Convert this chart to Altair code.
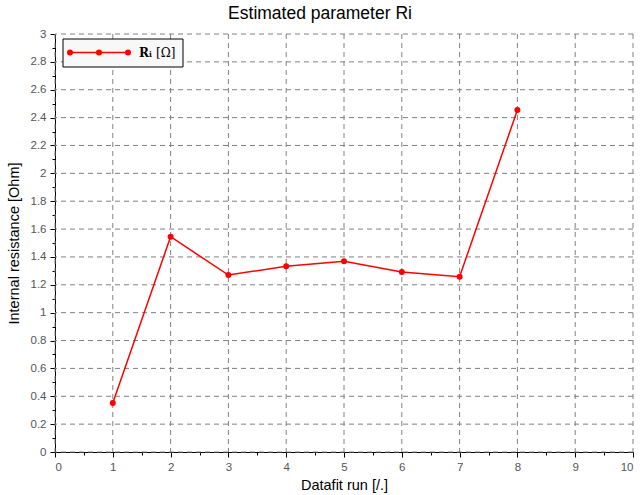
import altair as alt
import pandas as pd

runs = [1, 2, 3, 4, 5, 6, 7, 8]
ri = [0.352, 1.545, 1.270, 1.333, 1.369, 1.292, 1.258, 2.455]

x_ticks = [i * 0.5 for i in range(21)]
y_ticks = [round(i * 0.1, 1) for i in range(31)]
x_major = list(range(0, 11))
y_major = [round(i * 0.2, 1) for i in range(16)]

df = pd.DataFrame({"run": runs, "ri": ri})
dummy = pd.DataFrame({"a": [0]})

xaxis = alt.Axis(
    values=x_ticks,
    grid=False,
    labelExpr="(round(datum.value*2) % 2 === 0) ? format(datum.value, '~g') : ''",
    tickSize={"condition": {"test": "round(datum.value*2) % 2 === 0", "value": 5}, "value": 3},
    title="Datafit run [/.]",
)
yaxis = alt.Axis(
    values=y_ticks,
    grid=False,
    labelExpr="(round(datum.value*10) % 2 === 0) ? format(datum.value, '~g') : ''",
    tickSize={"condition": {"test": "round(datum.value*10) % 2 === 0", "value": 5}, "value": 3},
    title="Internal resistance [Ohm]",
)

xs = alt.Scale(domain=[0, 10], nice=False, zero=False)
ys = alt.Scale(domain=[0, 3], nice=False)
x = alt.X("run:Q", scale=xs, axis=xaxis)
y = alt.Y("ri:Q", scale=ys, axis=yaxis)

grid_style = dict(color="#808080", strokeDash=[5, 4], strokeWidth=1)
vgrid = alt.Chart(pd.DataFrame({"gx": x_major})).mark_rule(**grid_style).encode(
    x=alt.X("gx:Q", scale=xs, axis=xaxis)
)
hgrid = alt.Chart(pd.DataFrame({"gy": y_major})).mark_rule(**grid_style).encode(
    y=alt.Y("gy:Q", scale=ys, axis=yaxis)
)

line = alt.Chart(df).mark_line(color="#ff0000", strokeWidth=1.5).encode(x=x, y=y)
pts = alt.Chart(df).mark_circle(color="#ff0000", size=36, opacity=1).encode(x=x, y=y)

# legend box
box = alt.Chart(dummy).mark_rect(fill="#f8f8f8", stroke="black", strokeWidth=1).encode(
    x=alt.value(8), x2=alt.value(128), y=alt.value(5), y2=alt.value(33)
)
lrule = alt.Chart(dummy).mark_rule(color="#ff0000", strokeWidth=1.5).encode(
    x=alt.value(15), x2=alt.value(73), y=alt.value(18.5)
)
ldots = [
    alt.Chart(dummy).mark_circle(color="#ff0000", size=36, opacity=1).encode(
        x=alt.value(px), y=alt.value(18.5)
    )
    for px in (15, 44, 73)
]
ltext1 = alt.Chart(dummy).mark_text(
    text="Rᵢ", font="DejaVu Serif", fontSize=12, fontWeight="bold", align="left",
    baseline="middle", color="black"
).encode(x=alt.value(84), y=alt.value(19))
ltext2 = alt.Chart(dummy).mark_text(
    text="[Ω]", font="DejaVu Serif", fontSize=12, fontWeight="normal", align="left",
    baseline="middle", color="black"
).encode(x=alt.value(101), y=alt.value(19))

chart = alt.layer(vgrid, hgrid, line, pts, box, lrule, *ldots, ltext1, ltext2).resolve_scale(
    x="shared", y="shared"
).properties(
    width=578,
    height=418,
    title=alt.TitleParams("Estimated parameter Ri", fontSize=17.5, font="Liberation Sans",
                          fontWeight="normal", color="black", offset=6, dx=-24),
    autosize=alt.AutoSizeParams(type="none"),
    padding={"left": 55, "top": 34, "right": 8, "bottom": 43},
).configure_view(stroke=None).configure_axis(
    domainColor="black",
    tickColor="black",
    labelColor="#555555",
    labelFont="Liberation Sans",
    labelFontSize=11.5,
    titleFont="Liberation Sans",
    titleFontSize=14.5,
    titleFontWeight="normal",
    titleColor="black",
    labelPadding=4,
).configure_axisX(titlePadding=6).configure_axisY(titlePadding=9)

chart.save("out.html", embed_options={"renderer": "svg", "actions": False})
